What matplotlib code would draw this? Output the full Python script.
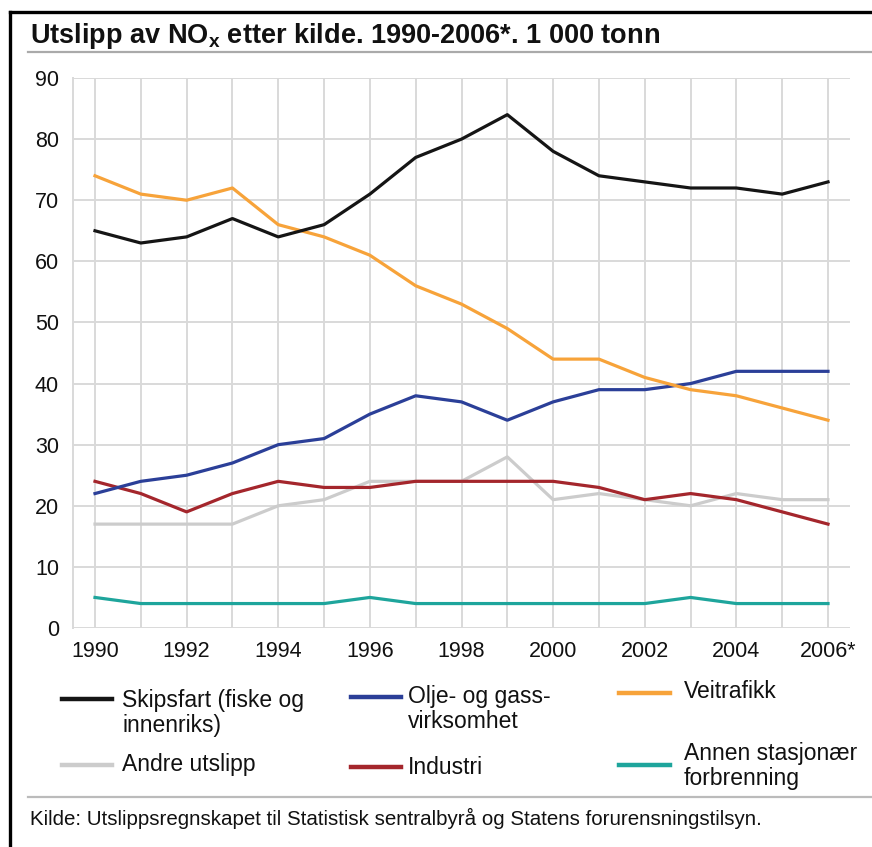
import matplotlib.pyplot as plt
from matplotlib.lines import Line2D

plt.rcParams["font.family"] = ["Liberation Sans", "DejaVu Sans"]
plt.rcParams["mathtext.fontset"] = "custom"
plt.rcParams["mathtext.rm"] = "Liberation Sans"
plt.rcParams["mathtext.bf"] = "Liberation Sans:bold"

years = list(range(1990, 2007))
year_labels = ["1990", "", "1992", "", "1994", "", "1996", "", "1998", "",
               "2000", "", "2002", "", "2004", "", "2006*"]

skipsfart = [65, 63, 64, 67, 64, 66, 71, 77, 80, 84, 78, 74, 73, 72, 72, 71, 73]
olje_gass = [22, 24, 25, 27, 30, 31, 35, 38, 37, 34, 37, 39, 39, 40, 42, 42, 42]
veitrafikk = [74, 71, 70, 72, 66, 64, 61, 56, 53, 49, 44, 44, 41, 39, 38, 36, 34]
andre = [17, 17, 17, 17, 20, 21, 24, 24, 24, 28, 21, 22, 21, 20, 22, 21, 21]
industri = [24, 22, 19, 22, 24, 23, 23, 24, 24, 24, 24, 23, 21, 22, 21, 19, 17]
stasjonaer = [5, 4, 4, 4, 4, 4, 5, 4, 4, 4, 4, 4, 4, 5, 4, 4, 4]

labels = ["Skipsfart (fiske og\ninnenriks)", "Olje- og gass-\nvirksomhet", "Veitrafikk",
          "Andre utslipp", "Industri", "Annen stasjonær\nforbrenning"]
colors = ["#151515", "#2b3f98", "#f7a33a", "#cccccc", "#a4262c", "#1ea59c"]
series = [skipsfart, olje_gass, veitrafikk, andre, industri, stasjonaer]

fig = plt.figure(figsize=(8.72, 8.47), dpi=100)
ax = fig.add_axes([73 / 872, 1 - 628 / 847, 777 / 872, 550 / 847])

# draw order: lighter lines first so the darker ones sit on top
for idx in [3, 5, 4, 1, 2, 0]:
    ax.plot(years, series[idx], color=colors[idx], lw=2.3, solid_joinstyle="round")

ax.set_xlim(1989.52, 2006.48)
ax.set_ylim(0, 90)
ax.set_xticks(years)
ax.set_xticklabels(year_labels)
ax.set_yticks(range(0, 91, 10))
ax.tick_params(length=0, labelsize=15.5, colors="#111111")
ax.tick_params(axis="x", pad=9)
ax.tick_params(axis="y", pad=10)
ax.grid(color="#d9d9d9", lw=1.4)
for side in ["top", "right", "bottom"]:
    ax.spines[side].set_visible(False)
ax.spines["left"].set_color("#d9d9d9")
ax.spines["left"].set_linewidth(1.4)
ax.set_axisbelow(True)

W, H = 872, 847


def fx(x):
    return x / W


def fy(y):
    return 1 - y / H


# frame (left and top edges) and rules
fig.add_artist(Line2D([fx(10), fx(10)], [fy(12), 0], color="black", lw=2.4))
fig.add_artist(Line2D([fx(10), 1], [fy(12), fy(12)], color="black", lw=2.4))
fig.add_artist(Line2D([fx(28), 1], [fy(52), fy(52)], color="#aaaaaa", lw=1.6))
fig.add_artist(Line2D([fx(28), 1], [fy(797), fy(797)], color="#bbbbbb", lw=1.6))

fig.text(fx(30), fy(36), r"Utslipp av NO$_\mathbf{x}$ etter kilde. 1990-2006*. 1 000 tonn",
         fontsize=19.5, fontweight="bold", va="center", ha="left", color="#111111")

# legend, 3 columns x 2 rows
handle_x = [(62, 112), (351, 401), (619, 670)]
text_x = [122, 408, 684]
handle_y = [699, 697, 693, 765, 767, 765]
text_y = [713, 709, 692, 764, 767, 766]
for i, (lab, col) in enumerate(zip(labels, colors)):
    c = i % 3
    x0, x1 = handle_x[c]
    fig.add_artist(Line2D([fx(x0), fx(x1)], [fy(handle_y[i]), fy(handle_y[i])], color=col, lw=3.2))
    fig.text(fx(text_x[c]), fy(text_y[i]), lab, fontsize=16.5, va="center", ha="left",
             linespacing=1.12, color="#111111")

fig.text(fx(30), fy(818), "Kilde: Utslippsregnskapet til Statistisk sentralbyrå og Statens forurensningstilsyn.",
         fontsize=14.8, va="center", ha="left", color="#111111")

fig.savefig("out.png", dpi=100)
